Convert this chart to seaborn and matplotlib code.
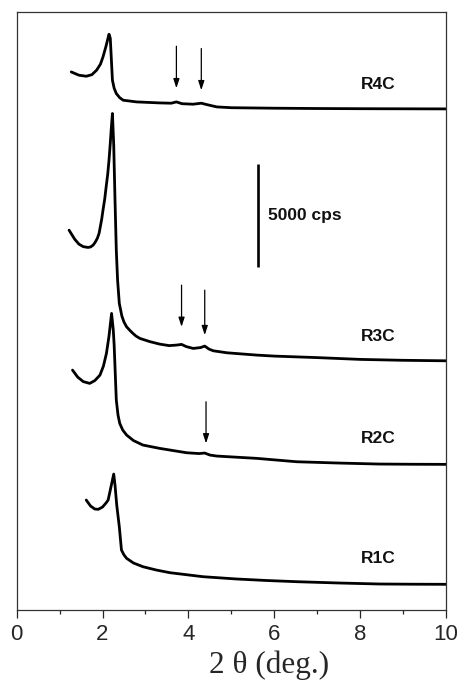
import matplotlib
matplotlib.use("Agg")
import matplotlib.pyplot as plt
import seaborn as sns
import pandas as pd

# Low-angle XRD patterns, stacked (counts in cps, vertical offsets included)
r4c_2theta = [1.27, 1.45, 1.62, 1.75, 1.86, 1.95, 2.01, 2.08, 2.15, 2.18, 2.20, 2.23,
              2.27, 2.32, 2.40, 2.48, 2.79, 3.33, 3.60, 3.72, 3.85, 4.11, 4.30, 4.42,
              4.66, 5.0, 6.0, 7.0, 8.0, 9.0, 10.0]
r4c_counts = [26108, 25948, 25899, 25972, 26190, 26481, 26835, 27354, 27936, 27742, 26918, 25705,
              25317, 25060, 24856, 24735, 24653, 24604, 24590, 24653, 24565, 24541, 24590, 24526,
              24410, 24371, 24347, 24332, 24323, 24318, 24313]

r3c_2theta = [1.22, 1.35, 1.45, 1.55, 1.66, 1.72, 1.78, 1.83, 1.88, 1.92, 1.95, 1.98, 2.01,
              2.05, 2.08, 2.12, 2.15, 2.18, 2.20, 2.23, 2.26, 2.29, 2.32, 2.35, 2.39, 2.45,
              2.50, 2.56, 2.63, 2.70, 2.78, 2.87, 3.10, 3.33, 3.55, 3.72, 3.84, 3.95, 4.11,
              4.28, 4.38, 4.48, 4.58, 4.90, 5.59, 6.0, 7.0, 8.0, 9.0, 10.0]
r3c_counts = [18430, 17994, 17751, 17630, 17591, 17615, 17703, 17848, 18042, 18285, 18624, 18964, 19400,
              19934, 20467, 21146, 21825, 22650, 23280, 24090, 22553, 19885, 17460, 16005, 14875, 14259,
              13968, 13740, 13580, 13435, 13289, 13177, 13022, 12901, 12828, 12853, 12886, 12780, 12692,
              12731, 12804, 12659, 12576, 12479, 12368, 12319, 12246, 12159, 12115, 12091]

r2c_2theta = [1.30, 1.42, 1.55, 1.70, 1.82, 1.94, 2.02, 2.09, 2.15, 2.21, 2.25, 2.27, 2.32,
              2.36, 2.40, 2.47, 2.56, 2.72, 2.94, 3.33, 3.96, 4.25, 4.38, 4.50, 4.66, 5.59,
              6.52, 7.5, 8.45, 9.2, 10.0]
r2c_counts = [11640, 11301, 11082, 10995, 11131, 11398, 11834, 12450, 13289, 14390, 13580, 12853, 10185,
              9458, 9055, 8730, 8488, 8221, 8003, 7842, 7629, 7590, 7615, 7518, 7469, 7357,
              7193, 7130, 7081, 7071, 7066]

r1c_2theta = [1.62, 1.72, 1.82, 1.90, 2.00, 2.08, 2.13, 2.19, 2.26, 2.29, 2.33, 2.39, 2.44,
              2.50, 2.56, 2.72, 2.94, 3.25, 3.57, 4.34, 5.12, 5.82, 6.52, 7.5, 8.45, 9.2, 10.0]
r1c_counts = [5335, 5044, 4899, 4884, 4996, 5190, 5335, 5917, 6596, 6063, 5093, 4040, 2910,
              2668, 2507, 2280, 2100, 1940, 1809, 1615, 1504, 1431, 1373, 1310, 1261, 1251, 1246]

sample_names = ["R4C", "R3C", "R2C", "R1C"]
label_positions = [25487, 13255, 8327, 2522]

# Arrows marking weak reflections: (2theta, tail, head)
arrow_marks = [(3.72, 27354, 25317), (4.30, 27242, 25220),
               (3.84, 15763, 13740), (4.38, 15520, 13338),
               (4.41, 10103, 8085)]

scale_bar_cps = 5000
scale_bar_x = 5.63
scale_bar_bottom = 16620

xticks = [0, 2, 4, 6, 8, 10]

frames = []
for name, xs, ys in zip(sample_names,
                        [r4c_2theta, r3c_2theta, r2c_2theta, r1c_2theta],
                        [r4c_counts, r3c_counts, r2c_counts, r1c_counts]):
    frames.append(pd.DataFrame({"two_theta": xs, "counts": ys, "sample": name}))
df = pd.concat(frames, ignore_index=True)

sns.set_style("ticks")
plt.rcParams["font.family"] = ["Liberation Sans", "DejaVu Sans"]

fig = plt.figure(figsize=(4.6, 6.84), dpi=100)
ax = fig.add_axes([0.0363, 0.1082, 0.9333, 0.8738])

for name in sample_names:
    sub = df[df["sample"] == name]
    sns.lineplot(data=sub, x="two_theta", y="counts", ax=ax, color="black",
                 linewidth=2.0, estimator=None, sort=False, legend=False)

for name, ypos in zip(sample_names, label_positions):
    ax.text(8.43, ypos, name, ha="center", va="center", fontsize=12.5,
            fontweight="bold", color="#111111")

for x, y0, y1 in arrow_marks:
    ax.annotate("", xy=(x, y1), xytext=(x, y0),
                arrowprops=dict(arrowstyle="-|>,head_length=0.55,head_width=0.18",
                                color="black", lw=0.9, shrinkA=0, shrinkB=0))

# Intensity scale bar
ax.plot([scale_bar_x, scale_bar_x], [scale_bar_bottom, scale_bar_bottom + scale_bar_cps],
        color="black", lw=1.9, solid_capstyle="butt")
ax.text(scale_bar_x + 0.23, scale_bar_bottom + scale_bar_cps * 0.5, f"{scale_bar_cps} cps",
        ha="left", va="center", fontsize=12.5, fontweight="bold", color="#111111")

ax.set_xlim(0, 10)
ax.set_ylim(0, 29000)
ax.set_xticks(xticks)
ax.set_xticks([1, 3, 5, 7, 9], minor=True)
ax.set_xticklabels([str(t) for t in xticks], fontsize=16)
ax.set_yticks([])
ax.tick_params(axis="x", which="major", direction="out", length=5.8, width=0.9, pad=4.5)
ax.tick_params(axis="x", which="minor", direction="out", length=3.0, width=0.9)
ax.set_ylabel("")
ax.set_xlabel("2 θ (deg.)", fontsize=22.5, family=["Liberation Serif", "DejaVu Serif"])
ax.xaxis.set_label_coords(0.587, -0.068)
for side in ["left", "right", "top", "bottom"]:
    ax.spines[side].set_visible(True)
    ax.spines[side].set_linewidth(0.9)
    ax.spines[side].set_color("#333333")

fig.savefig("out.png", dpi=100)
